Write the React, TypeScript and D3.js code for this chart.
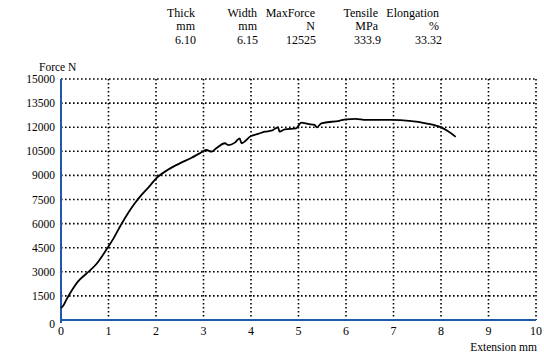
import * as d3 from "d3";

// header table
const headerNames = ["Thick", "Width", "MaxForce", "Tensile", "Elongation"];
const headerUnits = ["mm", "mm", "N", "MPa", "%"];
const headerValues = ["6.10", "6.15", "12525", "333.9", "33.32"];

// axis ticks
const xTicks = [0, 1, 2, 3, 4, 5, 6, 7, 8, 9, 10];
const yTicks = [0, 1500, 3000, 4500, 6000, 7500, 9000, 10500, 12000, 13500, 15000];

// curve: extension (mm), force (N)
const extension = [
  0, 0.05, 0.12, 0.22, 0.36, 0.54, 0.75, 0.96, 1.1, 1.24, 1.4, 1.55, 1.7, 1.87, 2.0,
  2.25, 2.5, 2.75, 2.92, 3.06, 3.17, 3.27, 3.45, 3.52, 3.66, 3.76, 3.8, 4.0, 4.15,
  4.29, 4.43, 4.57, 4.6, 4.71, 4.95, 5.06, 5.2, 5.34, 5.39, 5.48, 5.86, 6.0, 6.2,
  6.42, 6.98, 7.33, 7.68, 8.0, 8.15, 8.31,
];
const force = [
  750, 900, 1300, 1800, 2400, 2900, 3500, 4400, 5050, 5800, 6600, 7250, 7800, 8350, 8800,
  9350, 9750, 10100, 10370, 10580, 10480, 10690, 11000, 10890, 11040, 11310, 11000, 11450, 11580,
  11720, 11780, 11990, 11720, 11870, 11930, 12280, 12200, 12140, 11990, 12240, 12400, 12490, 12520,
  12450, 12450, 12390, 12240, 11990, 11750, 11400,
];

const W = 544;
const H = 356;
const colRight = [196, 258, 316, 379, 440];
const serif = '"Liberation Serif", "DejaVu Serif", "Times New Roman", Times, serif';
const blue = "#1f58ad";

export default function App() {
  const x = d3.scaleLinear().domain([0, 10]).range([61, 536]);
  const y = d3.scaleLinear().domain([0, 15000]).range([320, 79]);

  const pts = extension.map((e, i) => [e, force[i]] as [number, number]);
  const line = d3
    .line<[number, number]>()
    .x((d) => x(d[0]))
    .y((d) => y(d[1]))
    .curve(d3.curveMonotoneX);

  const txt = { fontFamily: serif, fill: "#000" };

  return (
    <svg
      width={W}
      height={H}
      style={{ position: "absolute", left: 0, top: 0, background: "#fff" }}
    >
      <rect width={W} height={H} fill="#fff" />

      {/* header */}
      {headerNames.map((n, i) => (
        <g key={n} fontSize={12} textAnchor="end">
          <text style={txt} x={colRight[i] - 1} y={17}>{n}</text>
          <text style={txt} x={colRight[i] - 1} y={30}>{headerUnits[i]}</text>
          <text style={txt} x={colRight[i] + (i >= 3 ? 2 : 0)} y={44}>{headerValues[i]}</text>
        </g>
      ))}

      {/* grid */}
      {yTicks.filter((t) => t > 0).map((t) => (
        <line
          key={"h" + t}
          x1={x(0)}
          x2={x(10)}
          y1={y(t)}
          y2={y(t)}
          stroke="#000"
          strokeWidth={1.6}
          strokeDasharray="1.6 2.4"
        />
      ))}
      {xTicks.filter((t) => t > 0).map((t) => (
        <line
          key={"v" + t}
          x1={x(t)}
          x2={x(t)}
          y1={y(15000)}
          y2={y(0)}
          stroke="#000"
          strokeWidth={1.6}
          strokeDasharray="1.6 2.4"
        />
      ))}

      {/* axes */}
      <line x1={x(0)} x2={x(0)} y1={y(15000)} y2={y(0) + 3} stroke={blue} strokeWidth={2} />
      <line x1={x(0) - 1} x2={x(10)} y1={y(0)} y2={y(0)} stroke={blue} strokeWidth={2} />

      {/* y tick labels */}
      {yTicks.map((t) => (
        <text
          key={"yl" + t}
          style={txt}
          x={55}
          y={y(t) + (t === 0 ? 8 : 4)}
          fontSize={11.5}
          textAnchor="end"
        >
          {t}
        </text>
      ))}

      {/* x tick labels */}
      {xTicks.map((t) => (
        <text key={"xl" + t} style={txt} x={x(t)} y={335} fontSize={12} textAnchor="middle">
          {t}
        </text>
      ))}

      <text style={txt} x={39} y={71} fontSize={11.5}>Force N</text>
      <text style={txt} x={537} y={351} fontSize={11.5} textAnchor="end">Extension mm</text>

      {/* curve */}
      <path d={line(pts) ?? ""} fill="none" stroke="#000" strokeWidth={1.8} strokeLinejoin="round" />
    </svg>
  );
}
